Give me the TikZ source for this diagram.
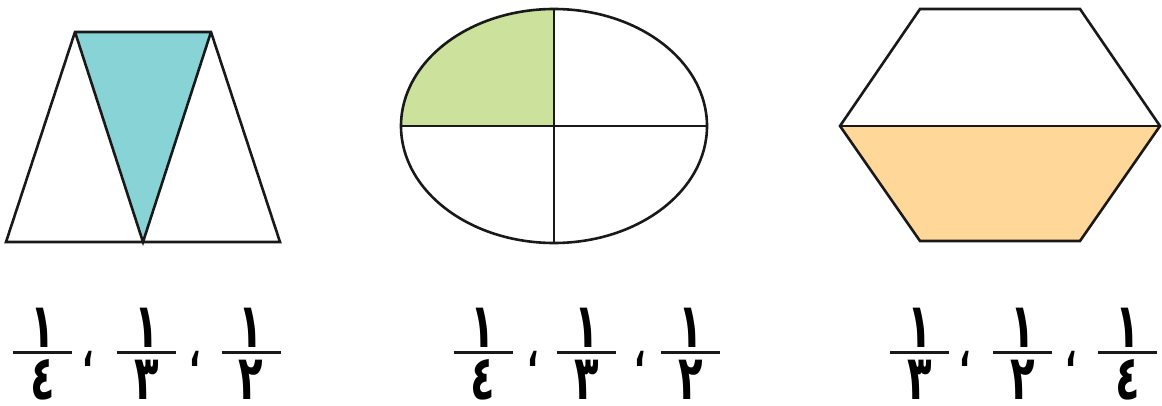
\documentclass[tikz,border=0pt]{standalone}
\usepackage{fontspec}
\newfontfamily\arabicfont[Script=Arabic,FakeStretch=0.65]{DejaVu Sans}
\TeXXeTstate=1
\definecolor{tealfill}{RGB}{136,211,214}
\definecolor{greenfill}{RGB}{204,226,156}
\definecolor{orangefill}{RGB}{255,216,153}
\tikzset{
  shapeline/.style={draw=black!90, line width=2.6pt, line join=miter},
  digit/.style={inner sep=0pt, font=\arabicfont\bfseries\fontsize{62}{62}\selectfont},
  fracbar/.style={line width=2.8pt, black!90},
  arcomma/.style={inner sep=0pt, font=\arabicfont\bfseries\fontsize{46}{46}\selectfont}
}
\newcommand\arfrac[4]{% #1 x, #2 numerator, #3 denominator, #4 name
  \coordinate (#4L) at (#1-29.5,352.5);
  \coordinate (#4R) at (#1+29.5,352.5);
  \draw[fracbar] (#4L) -- (#4R);
  \node[digit] (#4n) at (#1,327.5) {\beginR #2\endR};
  \node[digit] (#4d) at (#1,380) {\beginR #3\endR};
}
\begin{document}
\begin{tikzpicture}[x=1pt,y=-1pt]
\useasboundingbox (0,0) rectangle (1162,406);
% trapezoid
\coordinate (tBL) at (6,242);
\coordinate (tBR) at (280,242);
\coordinate (tTL) at (75,32);
\coordinate (tTR) at (211,32);
\coordinate (tBM) at (143,242);
\fill[tealfill] (tTL) -- (tTR) -- (tBM) -- cycle;
\draw[shapeline] (tBL) -- (tTL) -- (tTR) -- (tBR) -- cycle;
\draw[shapeline] (tTL) -- (tBM) -- (tTR);
% ellipse
\coordinate (eC) at (554,126);
\fill[greenfill] (eC) -- (401,126) arc[start angle=180, end angle=90, x radius=153, y radius=-117] -- cycle;
\draw[shapeline] (eC) ellipse[x radius=153, y radius=117];
\draw[shapeline] (554,9) -- (554,243);
\draw[shapeline] (401,126) -- (707,126);
% hexagon
\coordinate (hTL) at (920,9);
\coordinate (hTR) at (1080,9);
\coordinate (hR) at (1160,126);
\coordinate (hBR) at (1080,241);
\coordinate (hBL) at (920,241);
\coordinate (hL) at (840,126);
\fill[orangefill] (hL) -- (hR) -- (hBR) -- (hBL) -- cycle;
\draw[shapeline] (hTL) -- (hTR) -- (hR) -- (hBR) -- (hBL) -- (hL) -- cycle;
\draw[shapeline] (hL) -- (hR);
% fractions group 1
\arfrac{42.5}{١}{٤}{a1}
\node[arcomma] (c1a) at (88,359) {\beginR ،\endR};
\arfrac{146.5}{١}{٣}{a2}
\node[arcomma] (c1b) at (195,359) {\beginR ،\endR};
\arfrac{251}{١}{٢}{a3}
% group 2
\arfrac{483}{١}{٤}{b1}
\node[arcomma] (c2a) at (533,359) {\beginR ،\endR};
\arfrac{586.5}{١}{٣}{b2}
\node[arcomma] (c2b) at (640,359) {\beginR ،\endR};
\arfrac{690.5}{١}{٢}{b3}
% group 3
\arfrac{919.5}{١}{٣}{g1}
\node[arcomma] (c3a) at (965,359) {\beginR ،\endR};
\arfrac{1022.5}{١}{٢}{g2}
\node[arcomma] (c3b) at (1071,359) {\beginR ،\endR};
\arfrac{1127.5}{١}{٤}{g3}
\end{tikzpicture}
\end{document}
